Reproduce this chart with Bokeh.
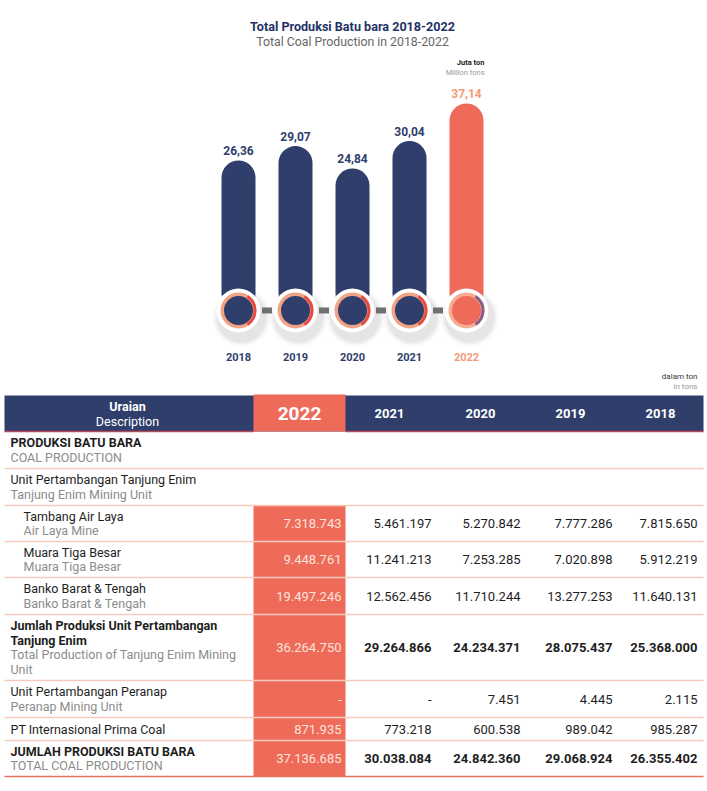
from bokeh.plotting import figure
from bokeh.layouts import column
from bokeh.models import Range1d, Label
from bokeh.core.properties import value
from bokeh.embed import file_html
from bokeh.resources import INLINE

# ---------------- data ----------------
years = ["2018", "2019", "2020", "2021", "2022"]
production_mt = [26.36, 29.07, 24.84, 30.04, 37.14]
current_year = "2022"

table_years = ["2022", "2021", "2020", "2019", "2018"]
row_label_id = [
    "PRODUKSI BATU BARA",
    "Unit Pertambangan Tanjung Enim",
    "Tambang Air Laya",
    "Muara Tiga Besar",
    "Banko Barat & Tengah",
    "Jumlah Produksi Unit Pertambangan|Tanjung Enim",
    "Unit Pertambangan Peranap",
    "PT Internasional Prima Coal",
    "JUMLAH PRODUKSI BATU BARA",
]
row_label_en = [
    "COAL PRODUCTION",
    "Tanjung Enim Mining Unit",
    "Air Laya Mine",
    "Muara Tiga Besar",
    "Banko Barat & Tengah",
    "Total Production of Tanjung Enim Mining|Unit",
    "Peranap Mining Unit",
    "",
    "TOTAL COAL PRODUCTION",
]
section_rows = [0, 1]
total_rows = [5, 8]
indented_rows = [2, 3, 4]
val_2022 = [None, None, 7318743, 9448761, 19497246, 36264750, None, 871935, 37136685]
val_2021 = [None, None, 5461197, 11241213, 12562456, 29264866, None, 773218, 30038084]
val_2020 = [None, None, 5270842, 7253285, 11710244, 24234371, 7451, 600538, 24842360]
val_2019 = [None, None, 7777286, 7020898, 13277253, 28075437, 4445, 989042, 29068924]
val_2018 = [None, None, 7815650, 5912219, 11640131, 25368000, 2115, 985287, 26355402]
table_values = [val_2022, val_2021, val_2020, val_2019, val_2018]

# ---------------- styles ----------------
NAVY = "#2f3e6b"
SALMON = "#ee6b5a"
RING = "#f2a385"
FONT = value("Roboto")
W = 707

# ---------------- chart ----------------
H1 = 370
PX_X = 57.0
PX_Y = 5.29
X0 = 238.0
Y0 = 70.6
p1 = figure(width=W, height=H1, output_backend="svg", toolbar_location=None,
            x_range=Range1d(-X0 / PX_X, (W - X0) / PX_X),
            y_range=Range1d(-Y0 / PX_Y, (H1 - Y0) / PX_Y),
            x_axis_location=None, y_axis_location=None, min_border=0)
p1.grid.visible = False
p1.outline_line_color = None
p1.background_fill_color = "white"

xs = list(range(len(years)))
cur = [y == current_year for y in years]
bar_col = [SALMON if c else NAVY for c in cur]
ring_col = ["#f6ad93" if c else RING for c in cur]
arc_col = ["#8b5d8e" if c else "#e64a43" for c in cur]
lab_col = ["#f29a78" if c else NAVY for c in cur]
base = -2.0

p1.vbar(x=xs, top=production_mt, bottom=base, width=34 / PX_X,
        fill_color=bar_col, line_color=None, border_radius=17)

# shadows + halo
for s, a in [(58, 0.025), (54, 0.035), (50, 0.045)]:
    p1.scatter(x=[x + 3 / PX_X for x in xs], y=base - 7 / PX_Y, size=s,
               fill_color="black", fill_alpha=a, line_color=None)
p1.scatter(x=xs, y=base, size=44, fill_color="white", line_color=None)
p1.scatter(x=xs, y=base, size=36, fill_color=ring_col, line_color=None)
p1.arc(x=xs, y=base, radius=16.5, radius_units="screen", start_angle=-1.0,
       end_angle=1.0, line_color=arc_col, line_width=3)
p1.scatter(x=xs, y=base, size=29, fill_color=bar_col, line_color=None)

# connectors
p1.rect(x=[x + 0.5 for x in xs[:-1]], y=base, width=10, height=6,
        width_units="screen", height_units="screen",
        fill_color="#707070", line_color=None)

p1.text(x=xs, y=production_mt, text=[f"{v:.2f}".replace(".", ",") for v in production_mt],
        y_offset=-5, text_align="center", text_baseline="bottom",
        text_font=FONT, text_font_size="12px", text_font_style="bold", text_color=lab_col)
p1.text(x=xs, y=(H1 - 356 - Y0) / PX_Y, text=years, text_align="center", text_baseline="middle",
        text_font=FONT, text_font_size="11px", text_font_style="bold", text_color=lab_col)

def lab(p, x, y, t, size, color, bold=False, align="center"):
    p.add_layout(Label(x=x, y=y, x_units="screen", y_units="screen", text=t,
                       text_align=align, text_baseline="middle", text_font="Roboto",
                       text_font_size=size, text_color=color,
                       text_font_style="bold" if bold else "normal"))

lab(p1, 352, H1 - 26, "Total Produksi Batu bara 2018-2022", "12.6px", "#1f3266", bold=True)
lab(p1, 352, H1 - 41, "Total Coal Production in 2018-2022", "12.3px", "#666666")
lab(p1, 484, H1 - 62, "Juta ton", "7.5px", "#222222", bold=True, align="right")
lab(p1, 484, H1 - 72, "Million tons", "7.5px", "#999999", align="right")

# ---------------- table ----------------
H2 = 791 - H1
p2 = figure(width=W, height=H2, output_backend="svg", toolbar_location=None,
            x_range=Range1d(0, W), y_range=Range1d(H2, 0),
            x_axis_location=None, y_axis_location=None, min_border=0)
p2.grid.visible = False
p2.outline_line_color = None

col_edges = [4, 253, 345, 435, 525, 615, 703]
col_right = [341, 431, 520, 612, 697]
head_top, head_bot = 25, 61
row_h = [37, 37, 36, 36, 37, 66, 37, 23, 36]
row_top = [head_bot]
for h in row_h:
    row_top.append(row_top[-1] + h)
first_val = 2
L, R = col_edges[0], col_edges[-1]

p2.quad(left=L, right=R, top=head_top, bottom=head_bot, fill_color=NAVY, line_color=None)
p2.quad(left=col_edges[1], right=col_edges[2], top=head_top - 1, bottom=head_bot,
        fill_color=SALMON, line_color=None)
p2.segment(x0=[L, col_edges[2]], x1=[col_edges[1], R], y0=head_bot, y1=head_bot,
           line_color="#b5485a", line_width=1.5)
p2.quad(left=col_edges[1], right=col_edges[2], top=row_top[first_val], bottom=row_top[-1],
        fill_color=SALMON, line_color=None)
p2.segment(x0=L, x1=R, y0=row_top[1:-1], y1=row_top[1:-1], line_color="#f5cabd", line_width=1.5)
p2.segment(x0=L, x1=R, y0=row_top[-1], y1=row_top[-1], line_color="#e8705f", line_width=1.5)

# header text
hc = 127
p2.text(x=[hc], y=[36], text=["Uraian"], text_align="center", text_baseline="middle",
        text_font=FONT, text_font_size="12.5px", text_font_style="bold", text_color="white")
p2.text(x=[hc], y=[51], text=["Description"], text_align="center", text_baseline="middle",
        text_font=FONT, text_font_size="12.5px", text_color="white")
cx = [299, 389, 480, 570, 660]
for i, yname in enumerate(table_years):
    big = yname == current_year
    p2.text(x=[cx[i]], y=[43], text=[yname], text_align="center", text_baseline="middle",
            text_font=FONT, text_font_size="19px" if big else "13px",
            text_font_style="bold", text_color="white")

p2.text(x=[697], y=[6], text=["dalam ton"], text_align="right", text_baseline="middle",
        text_font=FONT, text_font_size="8px", text_color="#333333")
p2.text(x=[697], y=[16], text=["in tons"], text_align="right", text_baseline="middle",
        text_font=FONT, text_font_size="8px", text_color="#999999")

LS = 14.5
for r in range(len(row_label_id)):
    top, h = row_top[r], row_h[r]
    cy = top + h / 2
    lines = []
    for t in row_label_id[r].split("|"):
        lines.append((t, "#1e1e1e", "bold" if (r in total_rows or r == 0) else "normal"))
    if row_label_en[r]:
        for t in row_label_en[r].split("|"):
            lines.append((t, "#8c8c8c", "normal"))
    n = len(lines)
    xl = 23 if r in indented_rows else 10
    for k, (t, c, st) in enumerate(lines):
        yy = cy + (k - (n - 1) / 2) * LS
        p2.text(x=[xl], y=[yy], text=[t], text_align="left", text_baseline="middle",
                text_font=FONT, text_font_size="12.5px", text_font_style=st, text_color=c)
    if r in section_rows:
        continue
    for j, vals in enumerate(table_values):
        v = vals[r]
        s = "-" if v is None else f"{v:,}".replace(",", ".")
        is_cur = table_years[j] == current_year
        p2.text(x=[col_right[j]], y=[cy], text=[s], text_align="right", text_baseline="middle",
                text_font=FONT, text_font_size="13px",
                text_font_style="bold" if (r in total_rows and not is_cur) else "normal",
                text_color="#fde3db" if is_cur else "#1e1e1e")

layout = column(p1, p2, spacing=0)
open("out.html", "w").write(file_html(layout, INLINE))
